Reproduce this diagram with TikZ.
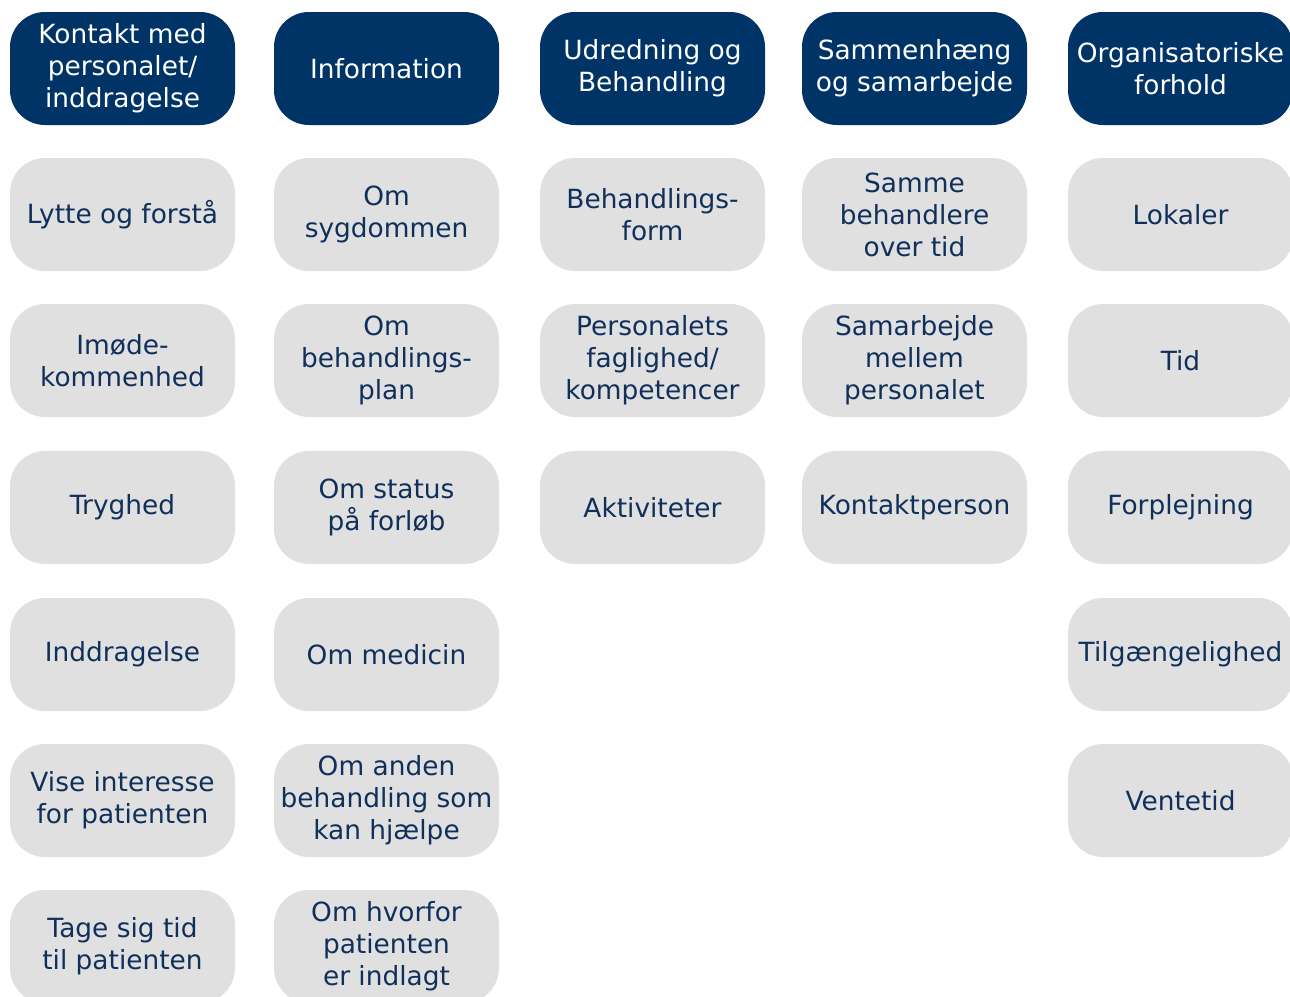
\documentclass[tikz,border=0pt]{standalone}
\usepackage{fontspec}
\setmainfont{DejaVu Sans}
\usetikzlibrary{positioning}
\definecolor{navy}{RGB}{0,51,102}
\definecolor{lightgrey}{RGB}{224,224,224}
\definecolor{inkblue}{RGB}{16,48,92}

\begin{document}
\begin{tikzpicture}[x=0.5pt,y=-0.5pt,
    head/.style={fill=navy,text=white,rounded corners=17.5pt,minimum width=112.5pt,
      minimum height=56.5pt,inner sep=0pt,align=center,font=\fontsize{13.2}{16}\selectfont},
    item/.style={head,fill=lightgrey,text=inkblue}]
        \fill[white] (0,0) rectangle (1290,996);
        \useasboundingbox (0,0) rectangle (1290,996);
        % headers
        \node[head] (kontakt) at (122.5,68.5) {Kontakt med\\personalet/\\inddragelse};
        \node[head] (info) at (386.5,68.5) {Information};
        \node[head] (udred) at (652.5,68.5) {Udredning og\\Behandling};
        \node[head] (samm) at (914.5,68.5) {Sammenhæng\\og samarbejde};
        \node[head] (org) at (1180.5,68.5) {Organisatoriske\\forhold};
        % column 1
        \node[item] (lytte) at (122.5,214.5) {Lytte og forstå};
        \node[item] (imode) at (122.5,360.5) {Imøde-\\kommenhed};
        \node[item] (tryg) at (122.5,507.5) {Tryghed};
        \node[item] (inddr) at (122.5,654.5) {Inddragelse};
        \node[item] (vise) at (122.5,800.5) {Vise interesse\\for patienten};
        \node[item] (tage) at (122.5,946.5) {Tage sig tid\\til patienten};
        % column 2
        \node[item] (sygd) at (386.5,214.5) {Om\\sygdommen};
        \node[item] (plan) at (386.5,360.5) {Om\\behandlings-\\plan};
        \node[item] (status) at (386.5,507.5) {Om status\\på forløb};
        \node[item] (medicin) at (386.5,654.5) {Om medicin};
        \node[item] (anden) at (386.5,800.5) {Om anden\\behandling som\\kan hjælpe};
        \node[item] (hvorfor) at (386.5,946.5) {Om hvorfor\\patienten\\er indlagt};
        % column 3
        \node[item] (form) at (652.5,214.5) {Behandlings-\\form};
        \node[item] (fagl) at (652.5,360.5) {Personalets\\faglighed/\\kompetencer};
        \node[item] (aktiv) at (652.5,507.5) {Aktiviteter};
        % column 4
        \node[item] (samme) at (914.5,214.5) {Samme\\behandlere\\over tid};
        \node[item] (samarb) at (914.5,360.5) {Samarbejde\\mellem\\personalet};
        \node[item] (kperson) at (914.5,507.5) {Kontaktperson};
        % column 5
        \node[item] (lokaler) at (1180.5,214.5) {Lokaler};
        \node[item] (tid) at (1180.5,360.5) {Tid};
        \node[item] (forpl) at (1180.5,507.5) {Forplejning};
        \node[item] (tilg) at (1180.5,654.5) {Tilgængelighed};
        \node[item] (vente) at (1180.5,800.5) {Ventetid};
      \end{tikzpicture}
\end{document}
